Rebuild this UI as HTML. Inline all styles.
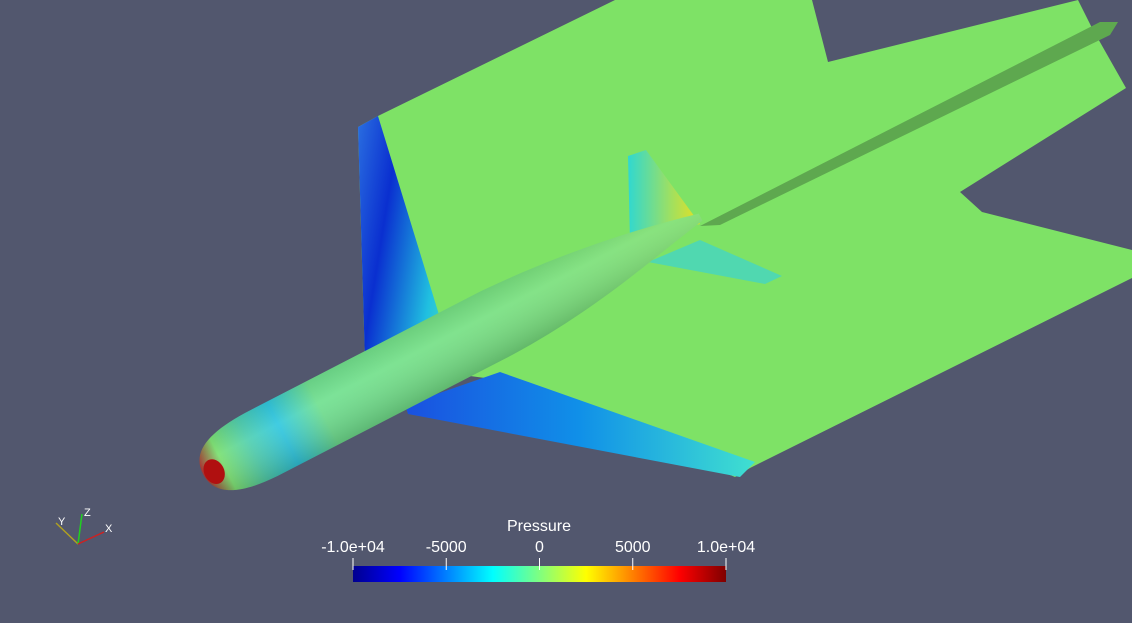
<!DOCTYPE html>
<html><head><meta charset="utf-8"><style>
html,body{margin:0;padding:0;background:#52576e;}
svg{display:block}
text{font-family:"Liberation Sans",sans-serif;fill:#fff}
</style></head><body>
<svg width="1132" height="623" viewBox="0 0 1132 623">
<defs>
<linearGradient id="jet" x1="0" x2="1" y1="0" y2="0">
<stop offset="0" stop-color="#00008f"/><stop offset="0.125" stop-color="#0000ff"/>
<stop offset="0.375" stop-color="#00ffff"/><stop offset="0.5" stop-color="#7fff80"/>
<stop offset="0.625" stop-color="#ffff00"/><stop offset="0.875" stop-color="#ff0000"/>
<stop offset="1" stop-color="#7f0000"/></linearGradient>
<linearGradient id="lwing" x1="0" y1="0" x2="1" y2="0.3">
<stop offset="0" stop-color="#2a6ee0"/><stop offset="0.3" stop-color="#0a2fd0"/><stop offset="0.7" stop-color="#20c0e0"/><stop offset="1" stop-color="#60e8a0"/></linearGradient>
<linearGradient id="rwing" x1="0" y1="0" x2="1" y2="0">
<stop offset="0" stop-color="#1a50e0"/><stop offset="0.5" stop-color="#1090e8"/><stop offset="1" stop-color="#40e0d0"/></linearGradient>
<linearGradient id="vtail" x1="0" y1="0" x2="1" y2="0">
<stop offset="0" stop-color="#30d8d0"/><stop offset="0.6" stop-color="#a0e060"/><stop offset="1" stop-color="#e8e020"/></linearGradient>
<linearGradient id="fus" x1="0" y1="0" x2="1" y2="0">
<stop offset="0" stop-color="#a02020"/><stop offset="0.04" stop-color="#7ae070"/><stop offset="0.10" stop-color="#50d0b0"/><stop offset="0.16" stop-color="#30c8e0"/><stop offset="0.24" stop-color="#70e090"/><stop offset="1" stop-color="#80e070"/></linearGradient>
<linearGradient id="shade" x1="0" y1="0" x2="0" y2="1">
<stop offset="0" stop-color="#000" stop-opacity="0.08"/><stop offset="0.35" stop-color="#fff" stop-opacity="0.08"/><stop offset="1" stop-color="#000" stop-opacity="0.18"/></linearGradient>
</defs>
<g>
<polygon fill="#7ee266" points="358,127 378,116 615,0 812,0 828,62 1078,0 1092,28 1126,88 960,192 982,212 1132,250 1132,278 750,468 735,477 500,380 365,362"/>
<polygon fill="#5ea84f" points="1100,22 1118,22 1110,35 720,225 700,226"/>
</g>
<polygon fill="url(#lwing)" points="358,127 378,116 440,318 490,338 365,362"/>
<polygon fill="url(#rwing)" points="405,405 500,372 755,462 740,477 408,414"/>
<polygon fill="url(#vtail)" points="628,156 646,150 700,224 630,242"/>
<polygon fill="#50d8b0" points="648,262 700,240 782,276 765,284"/>
<g transform="translate(203,474) rotate(-27.3)">
<path fill="url(#fus)" d="M0,0 C0,-24 22,-34 65,-35 L330,-35 C430,-32 510,-16 560,-4 L560,4 C500,14 430,34 330,36 L65,36 C22,35 0,24 0,0 Z"/>
<path fill="url(#shade)" d="M0,0 C0,-24 22,-34 65,-35 L330,-35 C430,-32 510,-16 560,-4 L560,4 C500,14 430,34 330,36 L65,36 C22,35 0,24 0,0 Z"/>
<ellipse cx="11" cy="3" rx="10" ry="13" fill="#b01010"/>
</g>
<g>
<line x1="78" y1="544" x2="56" y2="523" stroke="#b0a020" stroke-width="1.5"/>
<line x1="78" y1="544" x2="82" y2="514" stroke="#20d020" stroke-width="1.5"/>
<line x1="78" y1="544" x2="104" y2="532" stroke="#d02020" stroke-width="1.5"/>
<text x="58" y="525" font-size="11">Y</text><text x="84" y="516" font-size="11">Z</text><text x="105" y="532" font-size="11">X</text>
</g>
<g>
<text x="539" y="531" font-size="16" text-anchor="middle">Pressure</text>
<rect x="353" y="566" width="373" height="16" fill="url(#jet)"/>
<g id="ticks"></g>
</g>
</svg>
<script>
const tickValues=[-10000,-5000,0,5000,10000];
const tickLabels=["-1.0e+04","-5000","0","5000","1.0e+04"];
const g=document.getElementById('ticks');
const sx=v=>353+(v+10000)/20000*373;
tickValues.forEach((v,i)=>{
 const l=document.createElementNS('http://www.w3.org/2000/svg','line');
 l.setAttribute('x1',sx(v));l.setAttribute('x2',sx(v));l.setAttribute('y1',558);l.setAttribute('y2',570);
 l.setAttribute('stroke','#fff');
 
 
 g.appendChild(l);
 const t=document.createElementNS('http://www.w3.org/2000/svg','text');
 t.setAttribute('x',sx(v));t.setAttribute('y',552);t.setAttribute('font-size','16');t.setAttribute('text-anchor','middle');
 t.textContent=tickLabels[i];
 
 
 g.appendChild(t);
});
</script>
</body></html>
